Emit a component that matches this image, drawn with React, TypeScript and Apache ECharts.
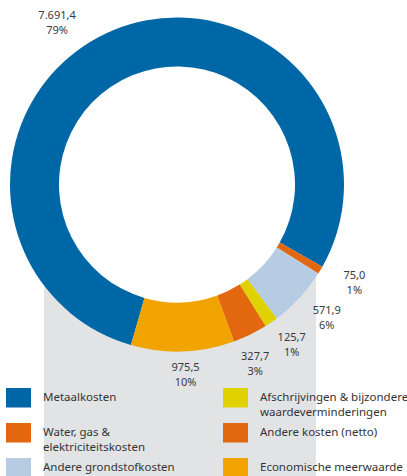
import React, { useEffect, useRef } from "react";
import * as echarts from "echarts";

const categories = [
  "Metaalkosten",
  "Water, gas &\nelektriciteitskosten",
  "Andere grondstofkosten",
  "Afschrijvingen & bijzondere\nwaardeverminderingen",
  "Andere kosten (netto)",
  "Economische meerwaarde",
];
const values = [7691.4, 75.0, 571.9, 125.7, 327.7, 975.5];
const colors = ["#0067A7", "#E3670E", "#B6CCE3", "#DFD200", "#E3670E", "#F1A300"];
const labelNudges = [
  [-44.6, 21.9],
  [6.5, -4.2],
  [3.7, -2.2],
  [2.4, -4.3],
  [-9.1, -0.7],
  [1.7, -9.1],
];

const FONT = "Noto Sans";

function formatNL(v: number): string {
  const [i, d] = v.toFixed(1).split(".");
  return i.replace(/\B(?=(\d{3})+(?!\d))/g, ".") + "," + d;
}

export default function App() {
  const ref = useRef<HTMLDivElement>(null);
  useEffect(() => {
    if (!ref.current) return;
    const chart = echarts.init(ref.current, null, { renderer: "svg" });
    const cx = 177;
    const cy = 184.5;
    const data = values.map((v, i) => ({
      value: v,
      name: categories[i],
      itemStyle: { color: colors[i] },
    }));
    const legendEls: any[] = [];
    const lh = 14.5;
    categories.forEach((name, i) => {
      const col = Math.floor(i / 3);
      const row = i % 3;
      const x = col === 0 ? 6 : 223;
      const y = 388 + row * 35;
      legendEls.push({
        type: "rect",
        shape: { x, y, width: 25, height: 19.5 },
        style: { fill: colors[i] },
      });
      legendEls.push({
        type: "text",
        x: x + 37,
        y: y + 9.75 - lh / 2 - 1,
        style: {
          text: name,
          fill: "#333333",
          fontSize: 11.5,
          fontFamily: FONT,
          lineHeight: lh,
          verticalAlign: "top",
          align: "left",
        },
      });
    });
    chart.setOption({
      animation: false,
      graphic: [
        {
          type: "rect",
          z: -10,
          shape: { x: 44, y: 270, width: 272, height: 206 },
          style: { fill: "#E2E3E5" },
        },
        {
          type: "circle",
          z: -9,
          shape: { cx, cy, r: 119 },
          style: { fill: "#ffffff" },
        },
        ...legendEls,
      ],
      series: [
        {
          type: "pie",
          center: [cx, cy],
          radius: [118, 167],
          startAngle: 254,
          clockwise: true,
          silent: true,
          emphasis: { disabled: true },
          label: { show: false },
          labelLine: { show: false },
          itemStyle: { borderWidth: 0 },
          data,
        },
        {
          type: "pie",
          center: [cx, cy],
          radius: [180, 212],
          startAngle: 254,
          clockwise: true,
          silent: true,
          emphasis: { disabled: true },
          itemStyle: { color: "rgba(0,0,0,0)", borderWidth: 0 },
          labelLine: { show: false },
          label: {
            show: true,
            position: "inside",
            color: "#3a3a3a",
            fontSize: 11,
            fontFamily: FONT,
            lineHeight: 15,
            align: "center",
            formatter: (p: any) =>
              formatNL(p.value) + "\n" + Math.round(p.percent) + "%",
          },
          labelLayout: (p: any) => ({
            dx: labelNudges[p.dataIndex][0],
            dy: labelNudges[p.dataIndex][1],
          }),
          data: values.map((v, i) => ({ value: v, name: categories[i] })),
        },
      ],
    });
    return () => chart.dispose();
  }, []);
  return (
    <div
      ref={ref}
      style={{ position: "absolute", left: 0, top: 0, width: 407, height: 476 }}
    />
  );
}
